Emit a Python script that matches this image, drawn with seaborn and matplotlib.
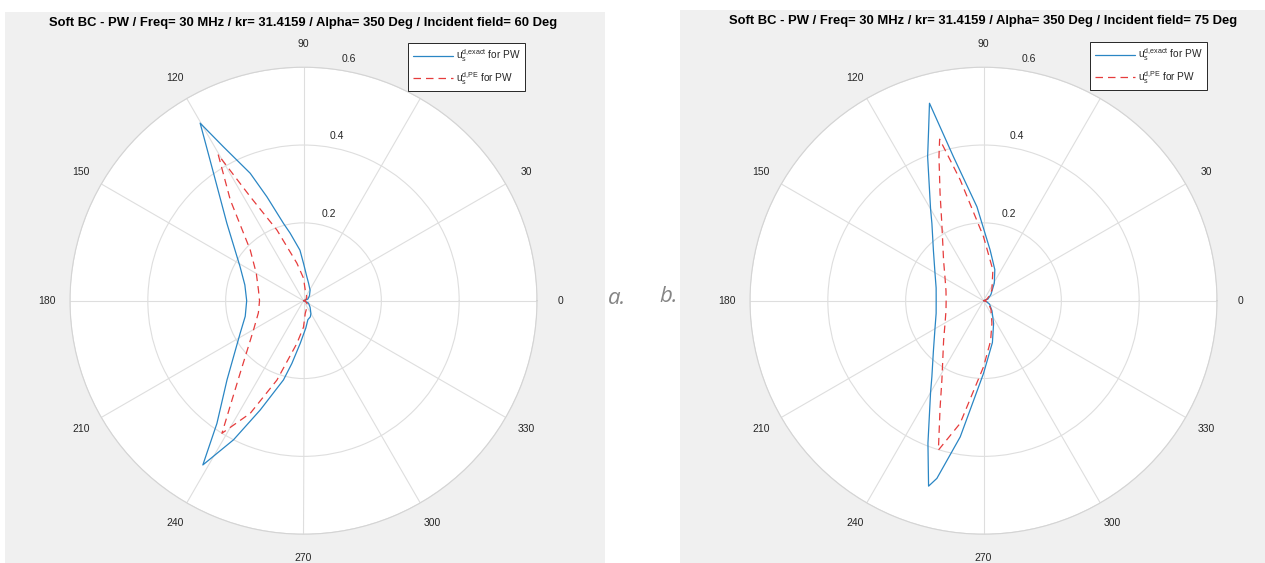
import numpy as np
import matplotlib
matplotlib.use("Agg")
import matplotlib.pyplot as plt
from matplotlib.patches import Rectangle
from matplotlib.lines import Line2D
import seaborn as sns

# Scattered far field |u_s^d| versus observation angle (deg), soft boundary, plane wave.
# Incident field 60 deg
theta_exact_60 = [0, 20, 40, 58, 74, 82, 90, 94, 101.2, 104.5, 109.4, 112.7, 117.5, 120.2,
                  125.2, 134.7, 151.8, 165, 180, 195, 207.2, 226, 234.8, 238.5, 243.3, 248.4,
                  255.8, 259.5, 265.6, 275, 283, 293, 300, 315, 335, 360]
r_exact_60 = [0.0, 0.012, 0.02, 0.032, 0.047, 0.062, 0.096, 0.13, 0.177, 0.205, 0.283, 0.355,
              0.446, 0.528, 0.401, 0.28, 0.185, 0.156, 0.146, 0.155, 0.183, 0.283, 0.386,
              0.495, 0.40, 0.302, 0.21, 0.164, 0.11, 0.07, 0.05, 0.045, 0.038, 0.024, 0.014,
              0.0]

theta_pe_60 = [0, 20, 45, 65, 81, 90, 100, 110.6, 117.1, 120.3, 126, 136.4, 150, 166.6,
               180, 195, 210.4, 228.9, 238.4, 244.7, 251.5, 261.2, 270, 277.7, 295, 320,
               340, 360]
r_pe_60 = [0.0, 0.006, 0.012, 0.018, 0.028, 0.058, 0.098, 0.194, 0.30, 0.434, 0.32, 0.189,
           0.14, 0.119, 0.113, 0.12, 0.149, 0.248, 0.40, 0.32, 0.215, 0.111, 0.068, 0.033,
           0.02, 0.012, 0.006, 0.0]

# Incident field 75 deg
theta_exact_75 = [0, 20, 40, 58.4, 70, 82.5, 94, 101.8, 105.3, 108, 111.2, 120, 123.7, 135,
                  150, 165, 180, 195, 210, 225, 235.8, 240, 248.7, 253.5, 255.3, 260.3, 270,
                  282, 293.9, 310, 330, 345, 360]
r_exact_75 = [0.0, 0.012, 0.025, 0.053, 0.085, 0.131, 0.242, 0.378, 0.526, 0.457, 0.397,
              0.272, 0.239, 0.182, 0.144, 0.126, 0.1216, 0.126, 0.144, 0.182, 0.236, 0.272,
              0.393, 0.497, 0.472, 0.355, 0.187, 0.11, 0.064, 0.034, 0.018, 0.008, 0.0]

theta_pe_75 = [0, 20, 40, 52, 73, 90, 100.9, 105.2, 107.2, 112, 118.3, 135, 150, 165, 180,
               195, 210, 225, 242.3, 248, 253.2, 259.2, 270, 280, 290.4, 310, 330, 345, 360]
r_pe_75 = [0.0, 0.008, 0.02, 0.035, 0.0825, 0.1645, 0.316, 0.43, 0.387, 0.298, 0.226, 0.145,
           0.114, 0.0998, 0.096, 0.0998, 0.114, 0.145, 0.23, 0.298, 0.401, 0.321, 0.17,
           0.105, 0.062, 0.03, 0.015, 0.006, 0.0]

incident_angles = [60, 75]
panel_tags = ["a.", "b."]
angle_ticks = list(range(0, 360, 30))
radius_ticks = [0.2, 0.4, 0.6]
legend_labels = [r"$\mathrm{u}_\mathrm{s}^\mathrm{d{,}exact}$ for PW",
                 r"$\mathrm{u}_\mathrm{s}^\mathrm{d{,}PE}$ for PW"]
title_text = "Soft BC - PW / Freq= 30 MHz / kr= 31.4159 / Alpha= 350 Deg / Incident field= {} Deg"

sns.set_theme(context="paper", style="white")
plt.rcParams["font.family"] = ["Liberation Sans", "DejaVu Sans"]
plt.rcParams["mathtext.fontset"] = "custom"
plt.rcParams["mathtext.rm"] = "Liberation Sans"
plt.rcParams["mathtext.it"] = "Liberation Sans:italic"
plt.rcParams["mathtext.bf"] = "Liberation Sans:bold"

W, H = 1265, 563
fig = plt.figure(figsize=(W / 100, H / 100), dpi=100, facecolor="white")

BLUE = "#2a86c4"
RED = "#e63c3c"
PANEL_BG = "#f0f0f0"
GRID = "#dedede"
TXT = "#262626"

# grey figure-like panels behind each polar plot
fig.patches.append(Rectangle((5 / W, 0), 600 / W, 551 / H, transform=fig.transFigure,
                             facecolor=PANEL_BG, edgecolor="none", zorder=-10))
fig.patches.append(Rectangle((680 / W, 0), 585 / W, 553 / H, transform=fig.transFigure,
                             facecolor=PANEL_BG, edgecolor="none", zorder=-10))

centers = [(303.5, 300.7), (983.5, 300.7)]
radius_px = 233.5
legend_anchor = [(408, 43), (1090, 42)]
title_y = [23, 21]
series = [((theta_exact_60, r_exact_60), (theta_pe_60, r_pe_60)),
          ((theta_exact_75, r_exact_75), (theta_pe_75, r_pe_75))]
tag_pos = [(617, 298), (669, 297)]

for i, (cx, cy) in enumerate(centers):
    ax = fig.add_axes([(cx - radius_px) / W, (H - cy - radius_px) / H,
                       2 * radius_px / W, 2 * radius_px / H], projection="polar")
    ax.set_facecolor("white")
    (te, re_), (tp, rp) = series[i]
    sns.lineplot(x=np.deg2rad(te), y=re_, ax=ax, sort=False, estimator=None,
                 color=BLUE, linewidth=0.9, legend=False)
    sns.lineplot(x=np.deg2rad(tp), y=rp, ax=ax, sort=False, estimator=None,
                 color=RED, linewidth=0.9, legend=False)
    ax.lines[-1].set_dashes([6, 4])

    ax.set_rlim(0, 0.6)
    ax.set_xticks(np.deg2rad(angle_ticks))
    ax.set_yticks(radius_ticks)
    ax.set_xticklabels([])
    ax.set_yticklabels([])
    ax.set_xlabel("")
    ax.set_ylabel("")
    ax.tick_params(length=0)
    ax.grid(True, color=GRID, linewidth=0.8)
    ax.spines["polar"].set_color("#d4d4d4")
    ax.spines["polar"].set_linewidth(0.8)

    for a in angle_ticks:
        ax.text(np.deg2rad(a), 0.66, str(a), ha="center", va="center",
                fontsize=7.5, color=TXT, clip_on=False, zorder=3)
    for rv, ang, rr in zip(radius_ticks, [74, 78.5, 79.3], [0.233, 0.433, 0.632]):
        ax.text(np.deg2rad(ang), rr, f"{rv:g}", ha="center", va="center",
                fontsize=7.5, color=TXT, clip_on=False, zorder=3)

    handles = [Line2D([], [], color=BLUE, linewidth=0.9),
               Line2D([], [], color=RED, linewidth=0.9, dashes=[6, 4])]
    lx, ly = legend_anchor[i]
    leg = ax.legend(handles, legend_labels, loc="upper left",
                    bbox_to_anchor=(lx / W, 1 - ly / H), bbox_transform=fig.transFigure,
                    frameon=True, fancybox=False, framealpha=1, edgecolor=TXT,
                    fontsize=7.3, handlelength=4.0, handletextpad=0.25,
                    borderpad=0.45, labelspacing=0.55, borderaxespad=0)
    leg.get_frame().set_linewidth(0.7)
    leg.set_zorder(10)

    fig.text(cx / W, 1 - title_y[i] / H, title_text.format(incident_angles[i]),
             ha="center", va="center", fontsize=9.4, fontweight="bold", color="black")

    tx, ty = tag_pos[i]
    fig.text(tx / W, 1 - ty / H, panel_tags[i], ha="center", va="center",
             fontsize=16, style="italic", color="#858585",
             family=["Open Sans", "DejaVu Sans"])

fig.savefig("out.png", dpi=100, facecolor="white")
